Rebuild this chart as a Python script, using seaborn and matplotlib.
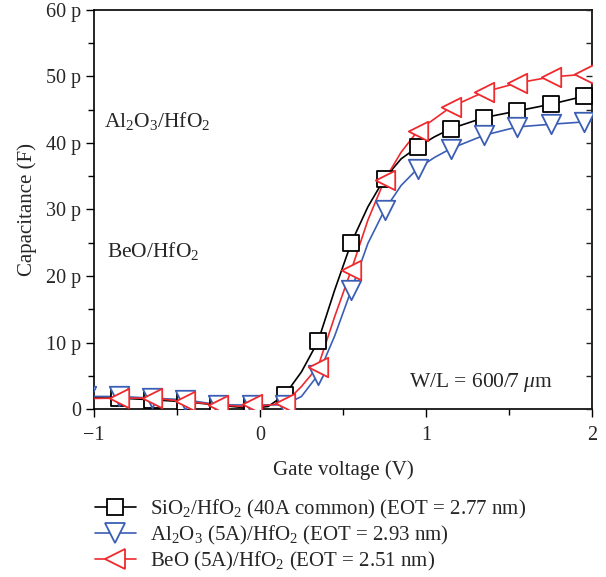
import numpy as np
import pandas as pd
import matplotlib
matplotlib.use("Agg")
import matplotlib.pyplot as plt
from matplotlib.lines import Line2D
import seaborn as sns

sns.set_theme(style="white")
plt.rcParams['font.family'] = ['Liberation Serif', 'DejaVu Serif']
plt.rcParams['mathtext.fontset'] = 'custom'
plt.rcParams['mathtext.rm'] = 'Liberation Serif'
plt.rcParams['mathtext.it'] = 'Liberation Serif:italic'

# ---- data (capacitance in pF) ----
sio2_mx = [-0.85, -0.65, -0.45, -0.25, -0.05, 0.15, 0.35, 0.55, 0.75, 0.95, 1.15, 1.35, 1.55, 1.75, 1.95]
sio2_my = [1.65, 1.4, 1.1, 0.6, 0.45, 2.15, 10.2, 25.0, 34.65, 39.4, 42.15, 43.8, 44.8, 45.8, 47.0]
sio2_lx = [-1.0, -0.85, -0.65, -0.45, -0.25, -0.05, 0.05, 0.15, 0.25, 0.35, 0.45, 0.55, 0.65, 0.75, 0.85, 0.95, 1.05, 1.15, 1.35, 1.55, 1.75, 1.95, 2.0]
sio2_ly = [1.7, 1.65, 1.4, 1.1, 0.6, 0.1, 0.4, 2.15, 5.6, 10.2, 17.9, 25.0, 30.4, 34.65, 37.6, 39.4, 40.9, 42.15, 43.8, 44.8, 45.8, 47.0, 47.2]

al2o3_mx = [-1.05, -0.85, -0.65, -0.45, -0.25, -0.05, 0.15, 0.35, 0.55, 0.75, 0.95, 1.15, 1.35, 1.55, 1.75, 1.95]
al2o3_my = [1.9, 1.9, 1.65, 1.4, 0.65, 0.65, 0.65, 5.15, 17.9, 29.9, 36.15, 39.15, 41.15, 42.4, 42.8, 43.15]
al2o3_lx = [-1.0, -0.85, -0.65, -0.45, -0.25, -0.05, 0.15, 0.25, 0.35, 0.45, 0.55, 0.65, 0.75, 0.85, 0.95, 1.05, 1.15, 1.35, 1.55, 1.75, 1.95, 2.0]
al2o3_ly = [1.9, 1.9, 1.65, 1.4, 0.65, 0.6, 0.65, 1.9, 5.15, 11.0, 17.9, 24.9, 29.9, 33.6, 36.15, 37.8, 39.15, 41.15, 42.4, 42.8, 43.15, 43.3]

beo_mx = [-0.85, -0.65, -0.45, -0.25, -0.05, 0.15, 0.35, 0.55, 0.75, 0.95, 1.15, 1.35, 1.55, 1.75, 1.95]
beo_my = [1.65, 1.65, 1.15, 0.65, 0.8, 0.9, 6.4, 20.9, 34.4, 41.8, 45.4, 47.65, 49.0, 49.9, 50.3]
beo_lx = [-1.0, -0.85, -0.65, -0.45, -0.25, -0.05, 0.15, 0.25, 0.35, 0.45, 0.55, 0.65, 0.75, 0.85, 0.95, 1.05, 1.15, 1.35, 1.55, 1.75, 1.95, 2.0]
beo_ly = [1.6, 1.65, 1.65, 1.15, 0.65, 0.3, 0.9, 3.4, 6.4, 13.9, 20.9, 28.4, 34.4, 38.6, 41.8, 43.6, 45.4, 47.65, 49.0, 49.9, 50.3, 50.4]

labels = ["SiO$_{\\mathrm{2}}$/HfO$_{\\mathrm{2}}$ (40A common) (EOT = 2.77 nm)",
          "Al$_{\\mathrm{2}}$O$_{\\mathrm{3}}$ (5A)/HfO$_{\\mathrm{2}}$ (EOT = 2.93 nm)",
          "BeO (5A)/HfO$_{\\mathrm{2}}$ (EOT = 2.51 nm)"]
colors = ["#000000", "#3b5eb5", "#ee2a2e"]
markers = ["s", "v", "<"]
msizes = [12, 14, 14]

x_ticks = [-1, 0, 1, 2]
x_ticklabels = ["\u22121", "0", "1", "2"]
y_ticks = [0, 10, 20, 30, 40, 50, 60]
y_ticklabels = ["0", "10 p", "20 p", "30 p", "40 p", "50 p", "60 p"]

fig = plt.figure(figsize=(6.06, 5.77), dpi=100)
ax = fig.add_axes([0.155, 0.291, 0.822, 0.692])

series = [(sio2_lx, sio2_ly, sio2_mx, sio2_my),
          (al2o3_lx, al2o3_ly, al2o3_mx, al2o3_my),
          (beo_lx, beo_ly, beo_mx, beo_my)]

for i, (lx, ly, mx, my) in enumerate(series):
    dl = pd.DataFrame({"x": lx, "y": ly})
    sns.lineplot(data=dl, x="x", y="y", ax=ax, color=colors[i], lw=1.2,
                 sort=True, estimator=None, legend=False, zorder=2 + i)
for i, (lx, ly, mx, my) in enumerate(series):
    dm = pd.DataFrame({"x": mx, "y": my})
    sns.scatterplot(data=dm, x="x", y="y", ax=ax, marker=markers[i],
                    s=msizes[i] ** 2, facecolor="white", edgecolor=colors[i],
                    linewidth=1.3, legend=False, zorder=5 + i)

ax.set_xlim(-1, 2)
ax.set_ylim(0, 60)
ax.set_xticks(x_ticks)
ax.set_xticklabels(x_ticklabels)
ax.set_yticks(y_ticks)
ax.set_yticklabels(y_ticklabels)
ax.set_xticks([-0.5, 0.5, 1.5], minor=True)
ax.set_yticks([5, 15, 25, 35, 45, 55], minor=True)
ax.tick_params(which="both", direction="out", labelsize=14.5, color="black",
               left=True, bottom=True, top=False, right=False)
ax.tick_params(which="major", length=6, width=1)
ax.tick_params(which="minor", length=4, width=1)
ax.tick_params(axis="x", pad=6)
ax.tick_params(axis="y", pad=3)

# inside ticks on right
ax2 = ax.twinx()
ax2.set_ylim(0, 60)
ax2.set_yticks(y_ticks)
ax2.set_yticks([5, 15, 25, 35, 45, 55], minor=True)
ax2.tick_params(which="both", direction="in", right=True, labelright=False, length=4, width=1)
for s in ax2.spines.values():
    s.set_visible(False)

for s in ax.spines.values():
    s.set_color("black")
    s.set_linewidth(1.2)

ax.set_xlabel("Gate voltage (V)", fontsize=15, labelpad=11)
ax.set_ylabel("Capacitance (F)", fontsize=15, labelpad=7)

ax.text(-0.94, 43.3, "Al$_{\\mathrm{2}}$O$_{\\mathrm{3}}$/HfO$_{\\mathrm{2}}$", fontsize=15.5, va="center")
ax.text(-0.92, 23.7, "BeO/HfO$_{\\mathrm{2}}$", fontsize=15.5, va="center")
ax.text(0.9, 4.0, "W/L = 600/7 $\\mathit{\\mu}$m", fontsize=15.5, va="center")

handles = [Line2D([0], [0], color=colors[i], lw=1.2, marker=markers[i],
                  markersize=msizes[i], markerfacecolor="white",
                  markeredgecolor=colors[i], markeredgewidth=1.3)
           for i in range(3)]
fig.legend(handles, labels, loc="upper left", bbox_to_anchor=(0.157, 0.137),
           frameon=False, fontsize=15, handlelength=1.95, labelspacing=0.15,
           handletextpad=0.7, borderaxespad=0, borderpad=0)

fig.savefig("out.png", dpi=100)
